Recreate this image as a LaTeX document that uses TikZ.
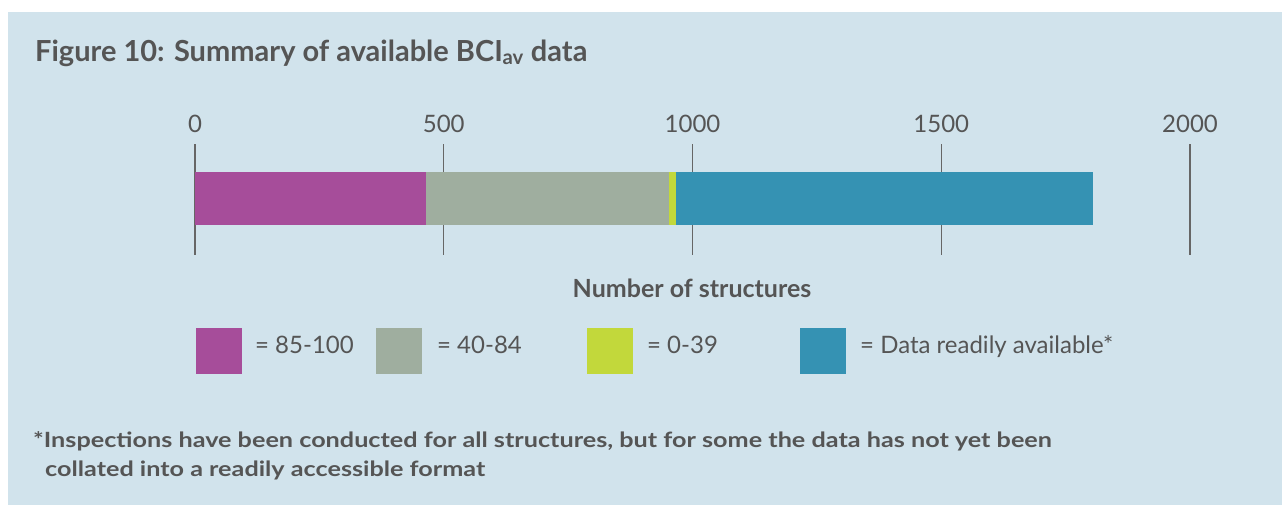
\documentclass[tikz,border=0pt]{standalone}
\usepackage{fontspec}
\setmainfont{Lato}
\newfontfamily\footfont[FakeStretch=1.2]{Lato}
\definecolor{bg}{HTML}{D1E3EC}
\definecolor{txt}{HTML}{555555}
\definecolor{tick}{HTML}{666666}
\definecolor{cmag}{HTML}{A64D9A}
\definecolor{cgray}{HTML}{9FAE9F}
\definecolor{cgreen}{HTML}{C2D83B}
\definecolor{cblue}{HTML}{3592B3}
\tikzset{
  ticklab/.style={anchor=base, text=txt, font=\fontsize{24}{28}\selectfont, inner sep=0pt},
  legtxt/.style={anchor=mid west, text=txt, font=\fontsize{24}{28}\selectfont, inner sep=0pt},
  legbox/.style={minimum width=46pt, minimum height=46pt, inner sep=0pt, anchor=north west},
  gridln/.style={draw=tick, line width=1.3pt},
  foot/.style={anchor=base west, text=txt, font=\footfont\bfseries\fontsize{21}{25}\selectfont, inner sep=0pt},
}
\begin{document}
\begin{tikzpicture}[x=1pt,y=-1pt]
\useasboundingbox (0,0) rectangle (1282,504);
\fill[white] (-2,-2) rectangle (1285,507);
\fill[bg] (8,12) rectangle (1285,507);
% title
\node[anchor=base west, text=txt, inner sep=0pt, font=\bfseries\fontsize{29}{34}\selectfont] (title) at (35,61) {Figure 10: Summary of available BCI\textsubscript{av} data};
% grid lines
\foreach \v/\n in {0/a,500/b,1000/c,1500/d,2000/e}{
  \coordinate (t\n) at ({195+\v*0.4975},144);
  \coordinate (b\n) at ({195+\v*0.4975},255);
  \draw[gridln] (t\n) -- (b\n);
  \node[ticklab] (l\n) at ({195+\v*0.4975},132) {\v};
}
% bar
\fill[cmag] (195,172) rectangle (426,225);
\fill[cgray] (426,172) rectangle (669,225);
\fill[cgreen] (669,172) rectangle (676,225);
\fill[cblue] (676,172) rectangle (1092.5,225);
% axis title
\node[anchor=base, text=txt, inner sep=0pt, font=\bfseries\fontsize{25}{29}\selectfont] (axt) at (692,297) {Number of structures};
% legend
\node[legbox, fill=cmag] (k1) at (196,328) {};
\node[legbox, fill=cgray] (k2) at (376,328) {};
\node[legbox, fill=cgreen] (k3) at (587,328) {};
\node[legbox, fill=cblue] (k4) at (800,328) {};
\node[legtxt] (k1t) at (255,351) {= 85-100};
\node[legtxt] (k2t) at (437,351) {= 40-84};
\node[legtxt] (k3t) at (647,351) {= 0-39};
\node[legtxt] (k4t) at (860,351) {= Data readily available*};
% footnote
\node[foot] (f1) at (33,447) {*Inspections have been conducted for all structures, but for some the data has not yet been};
\node[foot] (f2) at (45,476) {collated into a readily accessible format};
\end{tikzpicture}
\end{document}
